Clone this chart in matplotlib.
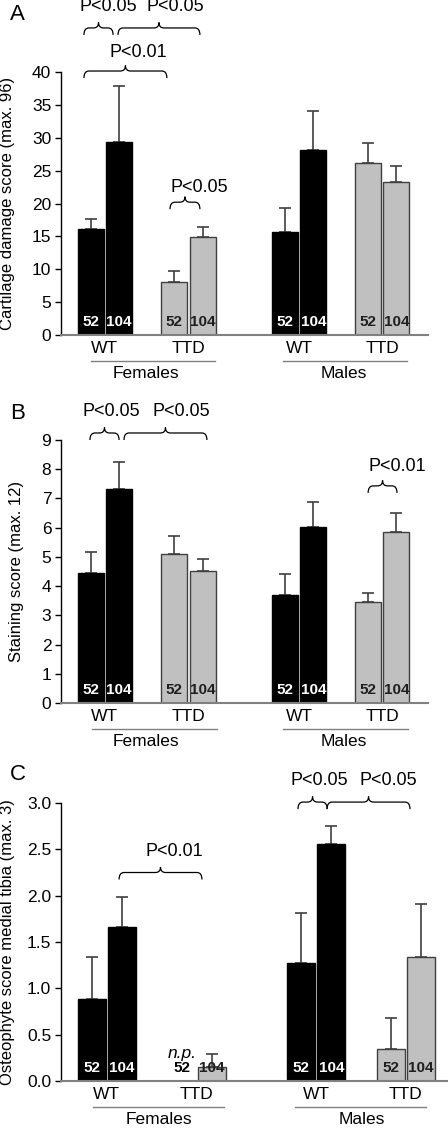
import numpy as np
import matplotlib
matplotlib.use('Agg')
import matplotlib.pyplot as plt
from matplotlib.path import Path
from matplotlib.patches import PathPatch
from matplotlib import transforms

plt.rcParams['font.family'] = ['Liberation Sans', 'DejaVu Sans']

# categories
genotypes = ['WT', 'TTD', 'WT', 'TTD']
sexes = ['Females', 'Males']
ages = ['52', '104']
bar_colors = ['black', 'black', '#c0c0c0', '#c0c0c0', 'black', 'black', '#c0c0c0', '#c0c0c0']

# panel A: cartilage damage score
cartilage_mean = [16.1, 29.4, 8.1, 14.9, 15.6, 28.1, 26.2, 23.2]
cartilage_err = [1.5, 8.4, 1.7, 1.6, 3.7, 6.0, 3.0, 2.5]

# panel B: staining score
staining_mean = [4.44, 7.31, 5.10, 4.52, 3.70, 6.01, 3.46, 5.86]
staining_err = [0.72, 0.95, 0.63, 0.41, 0.70, 0.86, 0.31, 0.65]

# panel C: osteophyte score (female TTD 52 wk not present)
osteophyte_mean = [0.89, 1.66, np.nan, 0.15, 1.27, 2.56, 0.345, 1.34]
osteophyte_err = [0.45, 0.33, np.nan, 0.14, 0.54, 0.19, 0.33, 0.57]

# significance braces: (x0, x1, y_flat, label, text_x, text_y)
sig_a = [(-0.80, 0.32, 46.7, 'P<0.05', 0.125, 49.9),
         (0.51, 3.66, 46.7, 'P<0.05', 2.70, 49.9),
         (-0.80, 2.39, 40.15, 'P<0.01', 1.28, 42.9),
         (2.51, 3.66, 20.2, 'P<0.05', 3.63, 22.4)]
sig_b = [(-0.57, 0.55, 9.24, 'P<0.05', 0.24, 9.96),
         (0.74, 3.93, 9.24, 'P<0.05', 2.93, 9.96),
         (10.13, 11.24, 7.43, 'P<0.01', 11.24, 8.08)]
sig_c = [(6.83, 7.87, 3.01, 'P<0.05', 7.58, 3.24),
         (7.87, 10.83, 3.01, 'P<0.05', 10.04, 3.24),
         (0.44, 3.40, 2.25, 'P<0.01', 2.42, 2.48)]

group_x = np.array([0.0, 3.22, 7.48, 10.68])
offset = 0.54
bar_x = np.ravel([[g - offset, g + offset] for g in group_x])

W, H = 448, 1129
fig = plt.figure(figsize=(W / 100, H / 100), dpi=100)


def make_axes(left, right, top, bottom):
    return fig.add_axes([left / W, 1 - bottom / H, (right - left) / W, (bottom - top) / H])


def brace(ax, x0, x1, y, tip_px=5.5, end_px=7, w_px=5):
    # curly brace with its point upwards, sizes given in pixels
    inv = ax.transData.inverted()
    p0 = inv.transform((0, 0))
    p1 = inv.transform((1, 1))
    dx = p1[0] - p0[0]
    dy = p1[1] - p0[1]
    w = w_px * dx
    xm = (x0 + x1) / 2
    verts = [(x0, y - end_px * dy), (x0, y), (x0 + w, y),
             (xm - w, y),
             (xm, y), (xm, y + tip_px * dy),
             (xm, y), (xm + w, y),
             (x1 - w, y),
             (x1, y), (x1, y - end_px * dy)]
    codes = [Path.MOVETO, Path.CURVE3, Path.CURVE3,
             Path.LINETO,
             Path.CURVE3, Path.CURVE3,
             Path.CURVE3, Path.CURVE3,
             Path.LINETO,
             Path.CURVE3, Path.CURVE3]
    ax.add_patch(PathPatch(Path(verts, codes), facecolor='none',
                           edgecolor='black', lw=0.9, clip_on=False))


def draw_panel(ax, mean, err, ylim, ticks, fmt, ylabel, sigs, xlim,
               line_f, line_m, sex_x, label_x):
    ax.set_xlim(*xlim)
    ax.set_ylim(*ylim)
    mean = np.array(mean)
    err = np.array(err)
    ok = ~np.isnan(mean)
    edge = ['black' if c == 'black' else '#404040' for c in bar_colors]
    ax.bar(bar_x[ok], mean[ok], width=1.0,
           color=np.array(bar_colors)[ok], edgecolor=np.array(edge)[ok],
           linewidth=1.0, zorder=2)
    ax.errorbar(bar_x[ok], mean[ok], yerr=[np.zeros(ok.sum()), err[ok]],
                fmt='none', ecolor='#404040', elinewidth=1.2,
                capsize=4, capthick=1.2, zorder=1)
    tb = transforms.blended_transform_factory(ax.transData, ax.transAxes)
    for i, x in enumerate(bar_x):
        col = 'white' if bar_colors[i] == 'black' else '#202020'
        if not ok[i]:
            col = 'black'
        ax.text(x, 0, ages[i % 2],
                transform=transforms.offset_copy(tb, fig, y=4.5, units='points'),
                ha='center', va='bottom', color=col, fontsize=11,
                fontweight='bold', zorder=3)
    ax.set_yticks(ticks)
    ax.set_yticklabels([fmt % t for t in ticks], fontsize=12.5)
    ax.set_xticks(group_x)
    ax.set_xticklabels(genotypes, fontsize=12.5)
    ax.tick_params(axis='x', length=0, pad=4)
    ax.tick_params(axis='y', length=4, width=1, direction='out', pad=3)
    ax.spines['top'].set_visible(False)
    ax.spines['right'].set_visible(False)
    ax.spines['left'].set_linewidth(1.0)
    ax.spines['bottom'].set_color('#808080')
    ax.spines['bottom'].set_linewidth(1.5)
    ax.set_ylabel(ylabel, fontsize=12)
    ax.yaxis.set_label_coords(label_x, 0.5)
    line_tr = transforms.offset_copy(tb, fig, y=-19, units='points')
    for (a, b) in (line_f, line_m):
        ax.plot([a, b], [0, 0], color='#808080', lw=1.0,
                transform=line_tr, clip_on=False)
    sex_tr = transforms.offset_copy(tb, fig, y=-22, units='points')
    for sx, name in zip(sex_x, sexes):
        ax.text(sx, 0, name, transform=sex_tr, ha='center', va='top',
                fontsize=12.5)
    for x0, x1, y, lab, tx, ty in sigs:
        brace(ax, x0, x1, y)
        ax.text(tx, ty, lab, ha='center', va='center', fontsize=13,
                clip_on=False)


ax_a = make_axes(61, 428, 72, 335)
draw_panel(ax_a, cartilage_mean, cartilage_err, (0, 40), np.arange(0, 41, 5),
           '%d', 'Cartilage damage score (max. 96)', sig_a, (-1.683, 12.433),
           (-0.53, 4.24), (6.86, 11.63), (1.6, 9.2), -0.125)

ax_b = make_axes(61, 428, 440, 703)
draw_panel(ax_b, staining_mean, staining_err, (0, 9), np.arange(0, 10, 1),
           '%d', 'Staining score (max. 12)', sig_b, (-1.683, 12.433),
           (-0.49, 4.32), (6.86, 11.67), (1.6, 9.2), -0.10)

ax_c = make_axes(61, 448, 803, 1081)
draw_panel(ax_c, osteophyte_mean, osteophyte_err, (0, 3.0),
           np.arange(0, 3.01, 0.5), '%.1f',
           'Osteophyte score medial tibia (max. 3)', sig_c, (-1.634, 12.188),
           (-0.49, 4.18), (6.72, 11.4), (1.85, 9.1), -0.12)
ax_c.text(bar_x[2], 0.245, 'n.p.', ha='center', va='baseline',
          fontsize=12.5, style='italic')

fig.text(10 / W, 1 - 15 / H, 'A', fontsize=16, ha='left', va='center')
fig.text(10 / W, 1 - 413 / H, 'B', fontsize=16, ha='left', va='center')
fig.text(10 / W, 1 - 775 / H, 'C', fontsize=16, ha='left', va='center')

fig.savefig('out.png', dpi=100)
